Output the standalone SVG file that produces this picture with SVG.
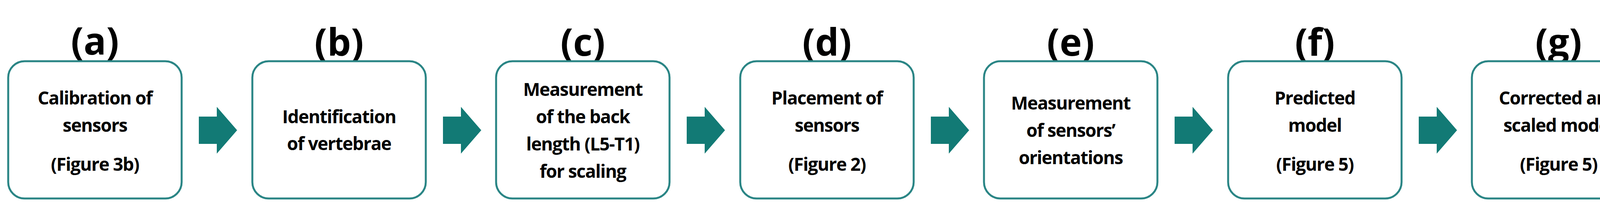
<svg xmlns="http://www.w3.org/2000/svg" width="4237" height="536" viewBox="0 0 4237 536">
<style>
.box{fill:#fff;stroke:#2a8585;stroke-width:5}
.lbl{font-family:"Open Sans","Liberation Sans",sans-serif;font-weight:bold;font-size:96px;text-anchor:middle;fill:#000}
.t{font-family:"Open Sans","Liberation Sans",sans-serif;font-weight:bold;font-size:46px;text-anchor:middle;fill:#000;letter-spacing:-1.5px}
.arr{fill:#127a75}
</style>
<defs><path id="ar" d="M0,-35 H46 V-60 L98,0 L46,60 V35 H0 Z"/></defs>
<g id="connectors">
<use href="#ar" class="arr" x="509" y="334"/>
<use href="#ar" class="arr" x="1134" y="334"/>
<use href="#ar" class="arr" x="1758" y="334"/>
<use href="#ar" class="arr" x="2383" y="334"/>
<use href="#ar" class="arr" x="3007" y="334"/>
<use href="#ar" class="arr" x="3632" y="334"/>
</g>
<g id="a"><text class="lbl" x="243" y="140">(a)</text><rect class="box" x="21" y="157" width="444" height="352" rx="42"/>
<text class="t" x="243" y="268">Calibration of</text><text class="t" x="243" y="338">sensors</text><text class="t" x="243" y="438">(Figure 3b)</text></g>
<g id="b"><text class="lbl" x="868" y="143">(b)</text><rect class="box" x="646" y="157" width="444" height="352" rx="42"/>
<text class="t" x="868" y="316">Identification</text><text class="t" x="868" y="385">of vertebrae</text></g>
<g id="c"><text class="lbl" x="1492" y="143">(c)</text><rect class="box" x="1270" y="157" width="444" height="352" rx="42"/>
<text class="t" x="1492" y="246">Measurement</text><text class="t" x="1492" y="316">of the back</text><text class="t" x="1492" y="386">length (L5-T1)</text><text class="t" x="1492" y="456">for scaling</text></g>
<g id="d"><text class="lbl" x="2117" y="143">(d)</text><rect class="box" x="1895" y="157" width="444" height="352" rx="42"/>
<text class="t" x="2117" y="268">Placement of</text><text class="t" x="2117" y="338">sensors</text><text class="t" x="2117" y="438">(Figure 2)</text></g>
<g id="e"><text class="lbl" x="2741" y="143">(e)</text><rect class="box" x="2519" y="157" width="444" height="352" rx="42"/>
<text class="t" x="2741" y="281">Measurement</text><text class="t" x="2741" y="351">of sensors’</text><text class="t" x="2741" y="421">orientations</text></g>
<g id="f"><text class="lbl" x="3366" y="143">(f)</text><rect class="box" x="3144" y="157" width="444" height="352" rx="42"/>
<text class="t" x="3366" y="268">Predicted</text><text class="t" x="3366" y="338">model</text><text class="t" x="3366" y="438">(Figure 5)</text></g>
<g id="g"><text class="lbl" x="3990" y="143">(g)</text><rect class="box" x="3768" y="157" width="444" height="352" rx="42"/>
<text class="t" x="3990" y="268">Corrected and</text><text class="t" x="3990" y="338">scaled model</text><text class="t" x="3990" y="438">(Figure 5)</text></g>
</svg>
